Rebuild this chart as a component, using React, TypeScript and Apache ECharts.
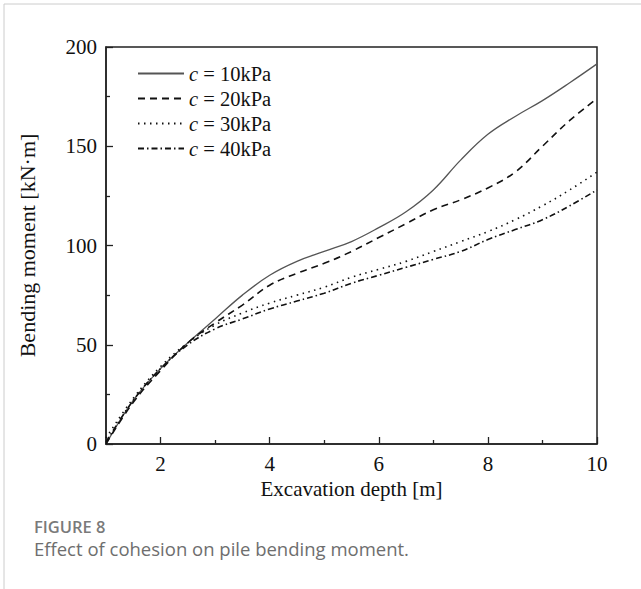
import React, { useEffect, useRef } from "react";
import * as echarts from "echarts";

const depths = [1, 1.5, 2, 2.5, 3, 3.5, 4, 4.5, 5, 5.5, 6, 6.5, 7, 7.5, 8, 8.5, 9, 9.5, 10];
const c10 = [0, 22, 38, 51, 63, 75, 85, 92, 97, 102, 109, 117, 128, 143, 156, 165, 173, 182, 191.5];
const c20 = [0, 21, 37, 51, 61, 70, 80, 86, 91, 97, 104, 111, 118, 123, 129, 137, 150, 163, 174];
const c30 = [3, 23, 39, 51, 60, 66, 71, 75, 79, 84, 88, 92, 97, 102, 107, 113, 120, 128, 137];
const c40 = [1, 22, 38, 50, 58, 63, 68, 72, 76, 81, 85, 89, 93, 97, 103, 108, 113, 120, 128];
const seriesNames = ["c = 10kPa", "c = 20kPa", "c = 30kPa", "c = 40kPa"];
const xMajorTicks = [2, 4, 6, 8, 10];
const xMinorTicks = [3, 5, 7, 9];

const SERIF = "'Liberation Serif', 'DejaVu Serif', serif";
const SANS = "'Open Sans', 'Noto Sans', sans-serif";

export default function App() {
  const ref = useRef<HTMLDivElement>(null);
  useEffect(() => {
    if (!ref.current) return;
    const chart = echarts.init(ref.current, undefined, { renderer: "svg" });
    const all = [c10, c20, c30, c40];
    const styles = [
      { color: "#555555", width: 1.3, type: "solid" as any },
      { color: "#111111", width: 1.6, type: [7, 5] as any },
      { color: "#111111", width: 1.6, type: [1.5, 4.5] as any },
      { color: "#111111", width: 1.6, type: [6, 3, 1.5, 3] as any },
    ];
    chart.setOption({
      animation: false,
      backgroundColor: "#ffffff",
      grid: {
        left: 106,
        top: 47,
        right: 44,
        bottom: 145,
        show: true,
        borderColor: "#222",
        borderWidth: 1.5,
        containLabel: false,
      },
      legend: {
        orient: "vertical",
        left: 132,
        top: 58,
        itemWidth: 46,
        itemHeight: 10,
        itemGap: 4,
        data: seriesNames,
        itemStyle: { opacity: 0 },
        formatter: (name: string) => "{i|c} " + name.slice(2),
        textStyle: {
          fontFamily: SERIF,
          fontSize: 20.5,
          lineHeight: 21,
          color: "#111",
          rich: {
            i: { fontFamily: SERIF, fontSize: 20.5, lineHeight: 21, fontStyle: "italic", color: "#111" },
          },
        },
      },
      xAxis: [
        {
          type: "value",
          min: 1,
          max: 10,
          name: "Excavation depth [m]",
          nameLocation: "middle",
          nameGap: 34,
          nameTextStyle: { fontFamily: SERIF, fontSize: 21, color: "#111" },
          axisLine: { show: true, lineStyle: { color: "#222", width: 1.5 } },
          axisTick: { show: true, inside: true, length: 7, customValues: xMajorTicks, lineStyle: { color: "#222", width: 1.3 } },
          axisLabel: { customValues: xMajorTicks, fontFamily: SERIF, fontSize: 21, color: "#111", margin: 9 },
          splitLine: { show: false },
        },
        {
          type: "value",
          min: 1,
          max: 10,
          position: "bottom",
          axisLine: { show: false },
          axisTick: { show: true, inside: true, length: 4, customValues: xMinorTicks, lineStyle: { color: "#222", width: 1.3 } },
          axisLabel: { show: false },
          splitLine: { show: false },
        },
      ],
      yAxis: {
        type: "value",
        min: 0,
        max: 200,
        interval: 50,
        name: "Bending moment [kN·m]",
        nameLocation: "middle",
        nameGap: 68,
        nameTextStyle: { fontFamily: SERIF, fontSize: 22, color: "#111" },
        axisLine: { show: true, lineStyle: { color: "#222", width: 1.5 } },
        axisTick: { show: true, inside: true, length: 7, lineStyle: { color: "#222", width: 1.3 } },
        minorTick: { show: true, splitNumber: 2, length: 4, lineStyle: { color: "#222", width: 1.3 } },
        axisLabel: { fontFamily: SERIF, fontSize: 21, color: "#111", margin: 9 },
        splitLine: { show: false },
        minorSplitLine: { show: false },
      },
      series: all.map((vals, i) => ({
        type: "line",
        name: seriesNames[i],
        xAxisIndex: 0,
        data: depths.map((d, j) => [d, vals[j]]),
        smooth: 0.4,
        showSymbol: false,
        symbol: "none",
        lineStyle: styles[i],
        itemStyle: { color: styles[i].color },
      })),
      graphic: [
        { type: "line", shape: { x1: 4, y1: 4, x2: 641, y2: 4 }, style: { stroke: "#cccccc", lineWidth: 1 } },
        { type: "line", shape: { x1: 4, y1: 4, x2: 4, y2: 589 }, style: { stroke: "#cccccc", lineWidth: 1 } },
        {
          type: "text",
          left: 34,
          top: 518,
          style: { text: "FIGURE 8", fontFamily: SANS, fontSize: 16.5, fontWeight: 600, fill: "#7a7a7a" },
        },
        {
          type: "text",
          left: 34,
          top: 539,
          style: { text: "Effect of cohesion on pile bending moment.", fontFamily: SANS, fontSize: 18.5, fill: "#6e6e6e" },
        },
      ],
    });
    return () => chart.dispose();
  }, []);
  return (
    <div
      ref={ref}
      style={{ position: "fixed", left: 0, top: 0, width: 641, height: 589, background: "#fff" }}
    />
  );
}
